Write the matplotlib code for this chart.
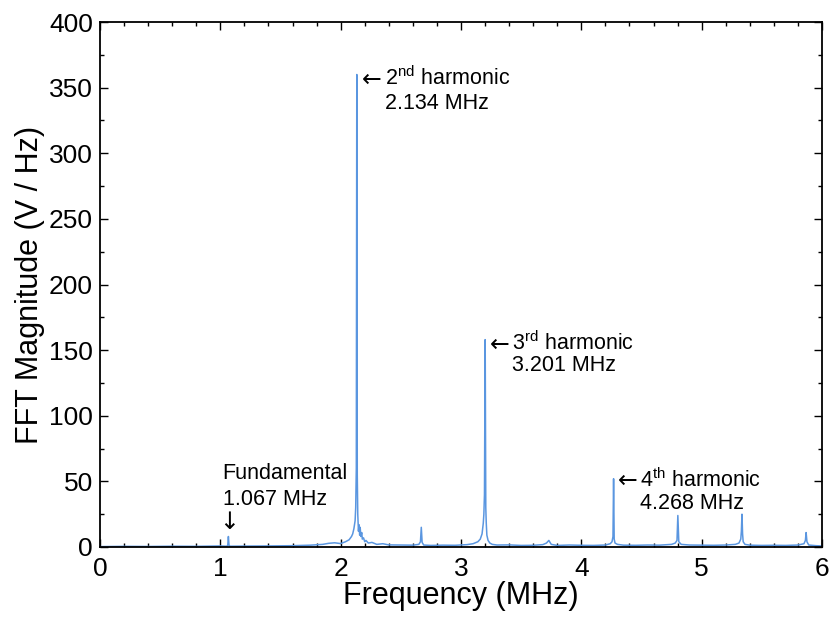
import matplotlib
matplotlib.use("Agg")
import matplotlib.pyplot as plt
from matplotlib.ticker import MultipleLocator

plt.rcParams['font.family'] = ['Liberation Sans', 'DejaVu Sans']
plt.rcParams['mathtext.fontset'] = 'custom'
plt.rcParams['mathtext.rm'] = 'Liberation Sans'
plt.rcParams['mathtext.it'] = 'Liberation Sans'

# Spectrum (frequency in MHz, magnitude in V/Hz)
freq_mhz = [0.0, 0.2, 0.4, 0.6, 0.8, 1.0, 1.055, 1.062, 1.067, 1.072, 1.08, 1.2, 1.4,
            1.6, 1.75, 1.85, 1.9, 1.95, 2.0, 2.04, 2.07, 2.09, 2.10, 2.11, 2.12, 2.125,
            2.13, 2.134, 2.138, 2.142, 2.148, 2.152, 2.158, 2.162, 2.168, 2.175, 2.18,
            2.19, 2.2, 2.21, 2.23, 2.26, 2.3, 2.35, 2.4, 2.5, 2.6, 2.65, 2.663, 2.67,
            2.677, 2.69, 2.75, 2.85, 2.95, 3.05, 3.1, 3.14, 3.16, 3.175, 3.185, 3.19,
            3.195, 3.201, 3.206, 3.21, 3.215, 3.225, 3.24, 3.26, 3.3, 3.4, 3.5, 3.6,
            3.68, 3.71, 3.73, 3.75, 3.8, 3.9, 4.0, 4.1, 4.2, 4.24, 4.255, 4.263,
            4.268, 4.273, 4.28, 4.3, 4.35, 4.45, 4.55, 4.65, 4.75, 4.78, 4.795, 4.802,
            4.81, 4.83, 4.9, 5.0, 5.1, 5.2, 5.28, 5.31, 5.325, 5.33, 5.335, 5.34,
            5.345, 5.36, 5.4, 5.5, 5.6, 5.7, 5.8, 5.85, 5.862, 5.868, 5.875, 5.89,
            5.95, 6.0]
magnitude = [0.3, 0.5, 0.4, 0.6, 0.5, 0.8, 0.6, 1.5, 8.0, 1.4, 0.6, 0.7, 0.8,
             1.0, 1.4, 2.0, 2.8, 3.2, 2.6, 4.0, 5.5, 8.0, 10.0, 14.0, 20.0, 30.0,
             60.0, 360.0, 55.0, 25.0, 12.0, 17.0, 9.0, 15.0, 8.0, 11.0, 6.0,
             7.0, 4.0, 5.0, 3.0, 3.5, 2.0, 2.5, 1.6, 1.5, 1.4, 2.0, 4.0, 15.0,
             3.5, 1.5, 1.2, 1.4, 1.3, 1.8, 2.5, 4.0, 6.0, 10.0, 18.0, 25.0,
             40.0, 158.0, 30.0, 18.0, 9.0, 5.0, 3.0, 2.0, 1.5, 1.6, 1.2, 1.3,
             1.8, 3.0, 5.0, 2.0, 1.2, 1.5, 1.3, 1.2, 1.5, 2.5, 4.0, 8.0,
             52.0, 6.0, 3.0, 2.0, 1.4, 1.3, 1.5, 1.4, 2.0, 3.0, 5.0, 24.0,
             4.0, 2.0, 1.5, 1.4, 1.3, 1.5, 2.0, 3.0, 6.0, 12.0, 25.0, 10.0,
             4.0, 2.0, 1.4, 1.2, 1.3, 1.2, 1.5, 2.5, 5.0, 11.0, 4.0, 1.5,
             1.0, 0.8]

# Harmonic labels: (x, y of first line, y of second line, name, frequency text)
harmonics = [
    (2.369, 357, 338, '2$^{\\rm nd}$ harmonic', '2.134 MHz'),
    (3.425, 155, 138, '3$^{\\rm rd}$ harmonic', '3.201 MHz'),
    (4.49, 51, 33, '4$^{\\rm th}$ harmonic', '4.268 MHz'),
]
fundamental = (1.02, 56, 36, 'Fundamental', '1.067 MHz')

fig = plt.figure(figsize=(8.31, 6.17), dpi=100)
ax = fig.add_axes([100 / 831, 1 - 547 / 617, 722 / 831, 525 / 617])
ax.plot(freq_mhz, magnitude, color='#5a96e0', linewidth=1.1)

ax.set_xlim(0, 6)
ax.set_ylim(0, 400)
ax.xaxis.set_major_locator(MultipleLocator(1))
ax.xaxis.set_minor_locator(MultipleLocator(0.2))
ax.yaxis.set_major_locator(MultipleLocator(50))
ax.yaxis.set_minor_locator(MultipleLocator(25))
ax.tick_params(which='both', direction='in', top=True, right=True, width=1.0)
ax.tick_params(which='major', length=6, labelsize=19)
ax.tick_params(axis='x', which='major', pad=7)
ax.tick_params(axis='y', which='major', pad=5)
ax.tick_params(which='minor', length=3)
for s in ax.spines.values():
    s.set_linewidth(1.3)

ax.set_xlabel('Frequency (MHz)', fontsize=22, labelpad=0)
ax.set_ylabel('FFT Magnitude (V / Hz)', fontsize=22, labelpad=3)

for x, y1, y2, name, ftxt in harmonics:
    ax.text(x, y1, name, fontsize=15.5, ha='left', va='center')
    ax.text(x, y2, ftxt, fontsize=15.5, ha='left', va='center')
    ax.annotate('\u2190', xy=(x, y1), xytext=(-3, -1), textcoords='offset pixels',
                fontsize=17, family='DejaVu Sans', ha='right', va='center')

fx, fy1, fy2, fname, ftxt = fundamental
ax.text(fx, fy1, fname, fontsize=15.5, ha='left', va='center')
ax.text(fx, fy2, ftxt, fontsize=15.5, ha='left', va='center')
ax.text(1.075, 19, '\u2193', fontsize=17, family='DejaVu Sans', ha='center', va='center')

fig.savefig('out.png', dpi=100)
